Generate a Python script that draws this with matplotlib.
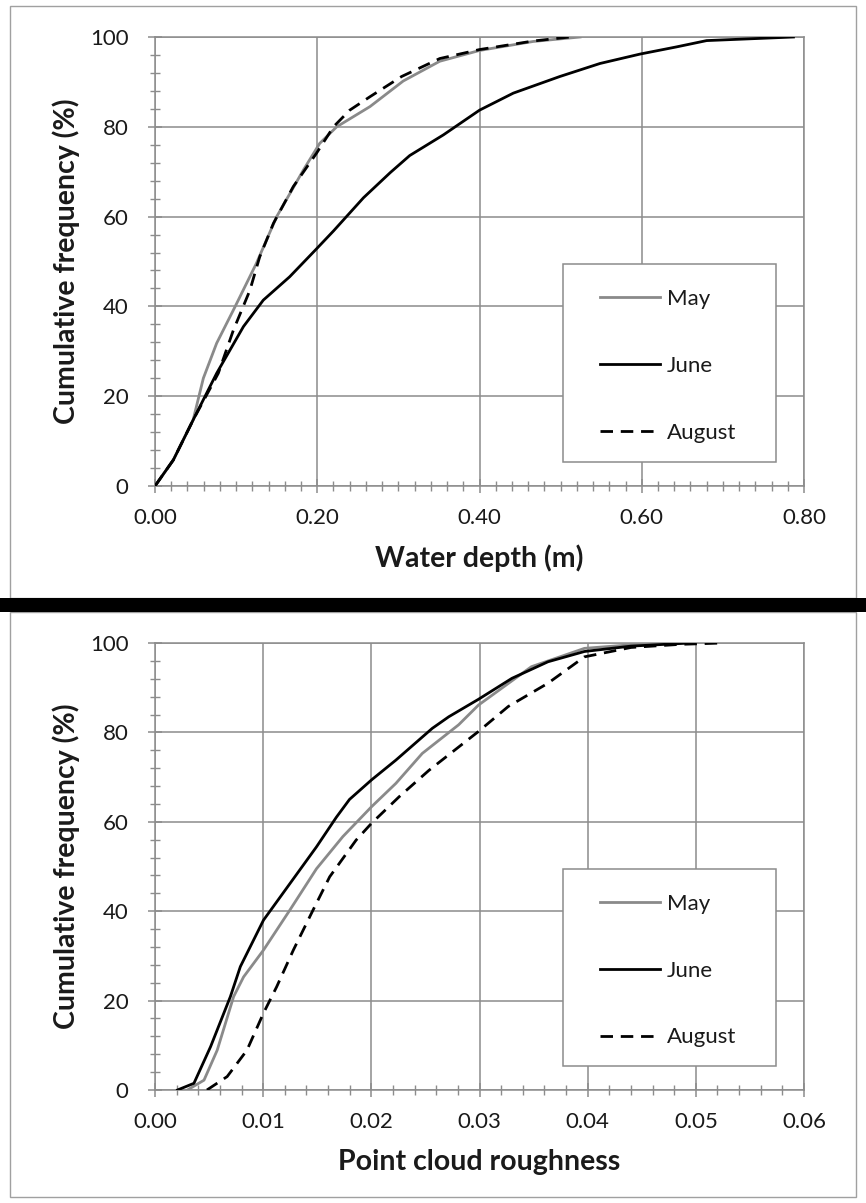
import matplotlib
matplotlib.use('Agg')
import matplotlib.pyplot as plt
from matplotlib.ticker import MultipleLocator, FormatStrFormatter
from matplotlib.patches import Rectangle

plt.rcParams['font.family'] = ['Lato', 'DejaVu Sans']

# water depth (m) vs cumulative frequency (%)
depth_may_x = [0.0, 0.0226, 0.047, 0.0596, 0.076, 0.0986, 0.125, 0.15, 0.183, 0.203,
               0.224, 0.265, 0.306, 0.351, 0.40, 0.466, 0.524]
depth_may_y = [0, 5.8, 14.7, 24.0, 31.8, 39.9, 49.6, 60, 70.4, 76.3,
               80, 84.5, 90.2, 94.6, 97.0, 99.0, 100]
depth_june_x = [0.0, 0.0226, 0.047, 0.076, 0.109, 0.1335, 0.166, 0.199, 0.22, 0.257,
                0.29, 0.314, 0.3555, 0.40, 0.4417, 0.499, 0.5485, 0.598, 0.643, 0.68, 0.787]
depth_june_y = [0, 5.8, 14.7, 25.1, 35.5, 41.4, 46.6, 52.8, 56.8, 64.2,
                69.8, 73.6, 78.2, 83.7, 87.5, 91.2, 94.1, 96.2, 97.8, 99.2, 100]
depth_aug_x = [0.0, 0.0226, 0.047, 0.078, 0.0966, 0.117, 0.129, 0.146, 0.1705, 0.199,
               0.22, 0.24, 0.265, 0.304, 0.351, 0.40, 0.466, 0.5115]
depth_aug_y = [0, 5.8, 14.7, 25.1, 34.7, 43.6, 51, 58.5, 66.7, 74.1,
               80, 83.7, 86.7, 91.2, 95.2, 97.2, 99.1, 100]

# point cloud roughness vs cumulative frequency (%)
rough_may_x = [0.003, 0.00453, 0.00575, 0.00727, 0.00819, 0.01003, 0.01248, 0.01493, 0.01737,
               0.02003, 0.02227, 0.02471, 0.02807, 0.0299, 0.0348, 0.0397, 0.044, 0.048]
rough_may_y = [0, 2.2, 8.9, 20.9, 25.3, 31.3, 40.3, 49.5, 56.7,
               63.4, 68.6, 75.3, 81.7, 86.1, 94.7, 98.8, 99.6, 100]
rough_june_x = [0.00208, 0.0036, 0.00514, 0.00697, 0.00789, 0.01003, 0.01248, 0.01493, 0.01676,
                0.01798, 0.02003, 0.02227, 0.02563, 0.02716, 0.0299, 0.033, 0.03633, 0.0397,
                0.044, 0.0495]
rough_june_y = [0, 1.5, 9.7, 20.9, 27.6, 38, 46.2, 54.4, 61.0,
                65.0, 69.4, 73.8, 80.9, 83.5, 87.4, 92.1, 95.8, 98.1,
                99.3, 100]
rough_aug_x = [0.0048, 0.00667, 0.0085, 0.01003, 0.01125, 0.01279, 0.01462, 0.01615, 0.01859,
               0.02003, 0.02257, 0.02532, 0.0299, 0.03266, 0.03633, 0.0397, 0.044, 0.04856, 0.05254]
rough_aug_y = [0, 3, 8.9, 17.2, 23.1, 31.3, 40.3, 47.7, 55.9,
               59.7, 65.6, 71.5, 80.2, 85.8, 91, 96.9, 99.0, 99.7, 100]

labels = ['May', 'June', 'August']

GRID = '#8c8c8c'
TXT = '#1a1a1a'
DASH = (0, (4.5, 2.8))

fig = plt.figure(figsize=(8.66, 12.03), dpi=100)

# outer frames and the thick separator
for y0, h in [(6, 592), (612, 585)]:
    fig.patches.append(Rectangle((10 / 866, 1 - (y0 + h) / 1203), 846 / 866, h / 1203,
                                 transform=fig.transFigure, fill=False,
                                 edgecolor='#a0a0a0', linewidth=1.0))
fig.patches.append(Rectangle((0, 1 - 612 / 1203), 1, 14 / 1203,
                             transform=fig.transFigure, facecolor='black',
                             edgecolor='none'))


def style_axes(ax, xmax, xmajor, xminor, xfmt, xlabel):
    ax.set_xlim(0, xmax)
    ax.set_ylim(0, 100)
    ax.xaxis.set_major_locator(MultipleLocator(xmajor))
    ax.xaxis.set_minor_locator(MultipleLocator(xminor))
    ax.xaxis.set_major_formatter(FormatStrFormatter(xfmt))
    ax.yaxis.set_major_locator(MultipleLocator(20))
    ax.yaxis.set_minor_locator(MultipleLocator(4))
    ax.grid(True, which='major', color=GRID, linewidth=1.1)
    ax.set_axisbelow(True)
    for s in ax.spines.values():
        s.set_color(GRID)
        s.set_linewidth(1.1)
    ax.tick_params(which='major', direction='inout', length=10, width=1.1,
                   color=GRID, labelsize=16, labelcolor=TXT)
    ax.tick_params(which='minor', direction='inout', length=7, width=1.0, color=GRID)
    ax.tick_params(axis='x', which='major', pad=11)
    ax.tick_params(axis='y', which='major', pad=14)
    ax.set_xlabel(xlabel, fontsize=20.5, fontweight='bold', color=TXT, labelpad=12)
    ax.set_ylabel('Cumulative frequency (%)', fontsize=20.5, fontweight='bold',
                  color=TXT, labelpad=7)


def add_legend(ax):
    box = Rectangle((0.6287, 0.0535), 0.328, 0.441, transform=ax.transAxes,
                    facecolor='white', edgecolor=GRID, linewidth=1.1, zorder=4)
    ax.add_patch(box)
    leg = ax.legend(labels, loc='upper left', bbox_to_anchor=(0.672, 0.458),
                    frameon=False, fontsize=16, handlelength=2.7,
                    handletextpad=0.3, labelspacing=2.1, borderaxespad=0)
    leg.set_zorder(5)
    for t in leg.get_texts():
        t.set_color(TXT)


ax1 = fig.add_axes([155 / 866, 1 - 486 / 1203, 649 / 866, 449 / 1203])
ax1.plot(depth_may_x, depth_may_y, color='#8a8a8a', linewidth=2.0, zorder=3)
ax1.plot(depth_june_x, depth_june_y, color='black', linewidth=2.0, zorder=3)
ax1.plot(depth_aug_x, depth_aug_y, color='black', linewidth=2.0,
         linestyle=DASH, zorder=3)
style_axes(ax1, 0.80, 0.20, 0.02, '%.2f', 'Water depth (m)')
add_legend(ax1)

ax2 = fig.add_axes([155 / 866, 1 - 1090 / 1203, 649 / 866, 447 / 1203])
ax2.plot(rough_may_x, rough_may_y, color='#8a8a8a', linewidth=2.0, zorder=3)
ax2.plot(rough_june_x, rough_june_y, color='black', linewidth=2.0, zorder=3)
ax2.plot(rough_aug_x, rough_aug_y, color='black', linewidth=2.0,
         linestyle=DASH, zorder=3)
style_axes(ax2, 0.06, 0.01, 0.002, '%.2f', 'Point cloud roughness')
add_legend(ax2)

fig.savefig('out.png', dpi=100)
